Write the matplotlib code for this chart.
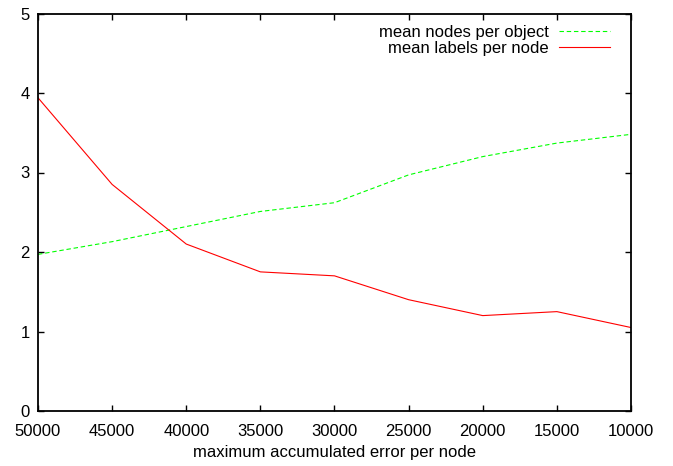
import matplotlib
matplotlib.use("Agg")
import matplotlib.pyplot as plt

plt.rcParams['font.family'] = ['Liberation Sans', 'DejaVu Sans']

# data
max_error = [50000, 45000, 40000, 35000, 30000, 25000, 20000, 15000, 10000]
nodes_per_object = [1.97, 2.13, 2.32, 2.51, 2.62, 2.97, 3.20, 3.37, 3.48]
labels_per_node = [3.94, 2.85, 2.10, 1.75, 1.70, 1.40, 1.20, 1.25, 1.05]
x_ticks = [50000, 45000, 40000, 35000, 30000, 25000, 20000, 15000, 10000]
y_ticks = [0, 1, 2, 3, 4, 5]

fig = plt.figure(figsize=(6.73, 4.66), dpi=100)
ax = fig.add_axes([38 / 673, 55 / 466, (631 - 38) / 673, (411 - 13.5) / 466])

ax.plot(max_error, nodes_per_object, color='#00ff00', lw=0.8,
        dashes=(4.0, 2.5), label='mean nodes per object')
ax.plot(max_error, labels_per_node, color='#ff0000', lw=0.8,
        label='mean labels per node')

ax.set_xlim(50000, 10000)
ax.set_ylim(0, 5)
ax.set_xticks(x_ticks)
ax.set_yticks(y_ticks)
ax.set_xticklabels([str(v) for v in x_ticks])
ax.tick_params(direction='in', length=4, width=1, top=True, right=True,
               labelsize=12)
ax.tick_params(axis='x', pad=9.5)
ax.tick_params(axis='y', pad=6)
for s in ax.spines.values():
    s.set_linewidth(1.3)

ax.set_xlabel('maximum accumulated error per node', fontsize=12, labelpad=4)

ax.legend(loc='upper right', bbox_to_anchor=(0.985, 1.0), frameon=False,
          markerfirst=False, fontsize=12, handlelength=3.1,
          handletextpad=0.6, labelspacing=0.05, borderaxespad=0.3)

fig.savefig('out.png', dpi=100)
